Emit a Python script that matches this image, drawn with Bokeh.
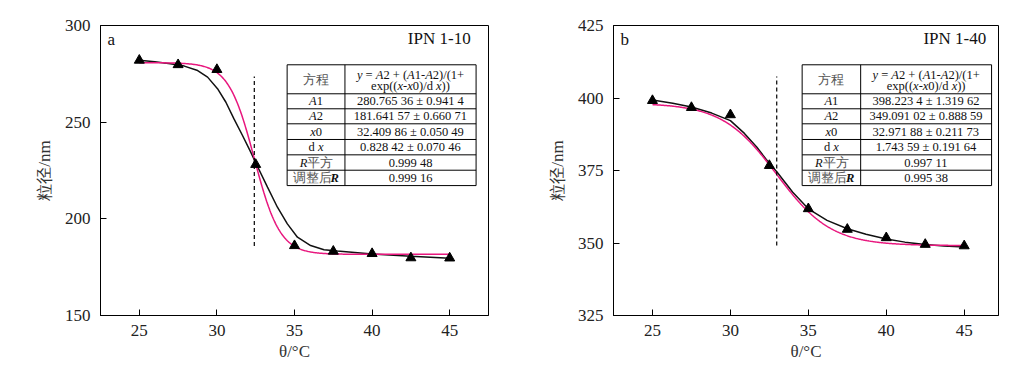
from bokeh.plotting import figure
from bokeh.layouts import row
from bokeh.models import Range1d, FixedTicker
from bokeh.core.properties import value
from bokeh.embed import file_html
from bokeh.resources import INLINE
import numpy as np

SERIF = "Liberation Serif"
MAGENTA = "#E8177E"

# ---------------- data ----------------
temps = [25, 27.5, 30, 32.5, 35, 37.5, 40, 42.5, 45]
size_a = [282.0, 279.7, 277.2, 228.1, 186.1, 183.2, 182.0, 179.8, 179.7]
size_b = [399.1, 396.7, 394.2, 376.7, 361.8, 354.7, 351.8, 349.5, 349.0]

# black smooth curves
black_a_x = [25, 26.0, 27.0, 27.9, 28.76, 29.4, 30.04, 30.58, 31.1, 31.65, 32.18, 32.5, 33.26,
             33.9, 34.54, 35.19, 36.04, 36.9, 37.76, 40, 42.5, 45]
black_a_y = [282.0, 281.3, 280.2, 279.0, 276.7, 273.3, 267.3, 260.3, 251.7, 243.1, 234.5, 229.0,
             216.4, 206.0, 197.4, 190.5, 186.2, 184.0, 183.3, 181.8, 180.6, 179.6]
black_b_x = [25, 26.3, 27.5, 28.8, 30, 30.9, 31.7, 32.3, 33.0, 34.0, 35, 36.2, 37.5, 38.7, 40,
             41.2, 42.5, 43.7, 45]
black_b_y = [399.3, 398.2, 396.9, 394.8, 392.2, 387.8, 383.0, 378.8, 374.4, 367.5, 361.8, 357.8,
             354.9, 353.0, 351.4, 350.3, 349.5, 349.0, 348.6]

# Boltzmann fit parameters (from the tables)
fit_a = dict(A1=280.76536, A2=181.64157, x0=32.40986, dx=0.82842)
fit_b = dict(A1=398.2234, A2=349.09102, x0=32.97188, dx=1.74359)

dash_a_y = [186.0, 273.6]
dash_b_y = [349.1, 407.4]

row_labels = ["A1", "A2", "x0", "dx", "R2", "adjR"]
table_a_vals = ["280.765 36 ± 0.941 4", "181.641 57 ± 0.660 71", "32.409 86 ± 0.050 49",
                "0.828 42 ± 0.070 46", "0.999 48", "0.999 16"]
table_b_vals = ["398.223 4 ± 1.319 62", "349.091 02 ± 0.888 59", "32.971 88 ± 0.211 73",
                "1.743 59 ± 0.191 64", "0.997 11", "0.995 38"]

xticks = [25, 30, 35, 40, 45]
yticks_a = [150, 200, 250, 300]
yticks_b = [325, 350, 375, 400, 425]

# ---------------- text layout helpers ----------------
W_R = {' ': .25, '(': .333, ')': .333, '+': .564, '-': .333, '/': .278, '=': .564, '.': .25,
       '±': .564, 'A': .722, 'R': .667, 'd': .5, 'e': .444, 'x': .5, 'p': .5, 'y': .5}
W_I = {'A': .611, 'y': .444, 'x': .444, 'R': .611, ' ': .25}
W_BI = {'R': .667}


def text_width(t, style):
    w = 0.0
    for c in t:
        if ord(c) > 0x2E80:
            w += 1.0
        elif c.isdigit():
            w += 0.5
        elif style == "bold italic" and c in W_BI:
            w += W_BI[c]
        elif style == "italic" and c in W_I:
            w += W_I[c]
        else:
            w += W_R.get(c, 0.5)
    return w


def draw_pieces(p, x, y, pieces, size, align="center"):
    total = sum(text_width(t, s) for t, s in pieces) * size
    off = {"center": -total / 2, "left": 0.0, "right": -total}[align]
    for t, s in pieces:
        lead = (len(t) - len(t.lstrip(' '))) * 0.25 * size
        body = t.strip(' ')
        cjk = any(ord(c) > 0x2E80 for c in body)
        if body:
            p.text(x=[x], y=[y], text=[body], x_offset=off + lead, text_align="left",
                   text_baseline="middle", text_font=value(SERIF), text_font_style=s,
                   text_font_size=value(f"{size}px"),
                   text_color="#555555" if cjk else "#111111")
        off += text_width(t, s) * size


LABEL_PIECES = {
    "A1": [("A", "italic"), ("1", "normal")],
    "A2": [("A", "italic"), ("2", "normal")],
    "x0": [("x", "italic"), ("0", "normal")],
    "dx": [("d ", "normal"), ("x", "italic")],
    "R2": [("R", "italic"), ("平方", "normal")],
    "adjR": [("调整后", "normal"), ("R", "bold italic")],
}
EQ1 = [("y", "italic"), (" = ", "normal"), ("A", "italic"), ("2 + (", "normal"), ("A", "italic"),
       ("1-", "normal"), ("A", "italic"), ("2)/(1+", "normal")]
EQ2 = [("exp((", "normal"), ("x", "italic"), ("-", "normal"), ("x", "italic"),
       ("0)/d ", "normal"), ("x", "italic"), ("))", "normal")]


def make_panel(xr, yr, yticks, ys, bx, by, fit, dash_y, vals, letter, title,
               bl, fw, br, tab_fx):
    p = figure(frame_width=fw, frame_height=290, x_range=Range1d(*xr), y_range=Range1d(*yr),
               output_backend="svg", toolbar_location=None, min_border_left=bl,
               min_border_right=br, min_border_top=25, min_border_bottom=48)
    p.background_fill_color = "white"
    p.border_fill_color = "white"
    p.outline_line_color = "black"
    p.outline_line_width = 1
    p.grid.visible = False
    for ax in (p.xaxis[0], p.yaxis[0]):
        ax.major_tick_in = 6
        ax.major_tick_out = 0
        ax.minor_tick_line_color = None
        ax.axis_line_color = "black"
        ax.major_tick_line_color = "black"
        ax.major_label_text_font = SERIF
        ax.major_label_text_font_size = "17px"
        ax.major_label_text_color = "#222222"
        ax.axis_label_text_font = SERIF
        ax.axis_label_text_font_size = "17px"
        ax.axis_label_text_font_style = "normal"
        ax.axis_label_text_color = "#333333"
    p.xaxis.ticker = FixedTicker(ticks=xticks)
    p.yaxis.ticker = FixedTicker(ticks=yticks)
    p.xaxis.major_label_standoff = 9
    p.yaxis.major_label_standoff = 10
    p.xaxis.axis_label = "θ/°C"
    p.xaxis.axis_label_standoff = 3
    p.yaxis.axis_label = "粒径/nm"
    p.yaxis.axis_label_standoff = 8

    # fit curve
    xf = np.linspace(25, 45, 400)
    yf = fit["A2"] + (fit["A1"] - fit["A2"]) / (1 + np.exp((xf - fit["x0"]) / fit["dx"]))
    p.line(bx, by, line_color="#111111", line_width=1.5)
    p.line(xf, yf, line_color=MAGENTA, line_width=1.5)
    p.line([fit["x0"], fit["x0"]], dash_y, line_color="black", line_width=1.2, line_dash="4 3")
    p.scatter(temps, ys, marker="triangle", size=10, color="black")

    def fx(f):
        return xr[0] + f * (xr[1] - xr[0])

    def fy(f):
        return yr[1] - f * (yr[1] - yr[0])

    # corner labels
    p.text(x=[fx(0.018)], y=[fy(0.048)], text=[letter], text_align="left", text_baseline="middle",
           text_font=value(SERIF), text_font_size=value("17px"), text_color="#111111")
    p.text(x=[fx(tab_fx[3])], y=[fy(0.046)], text=[title], text_align="right",
           text_baseline="middle", text_font=value(SERIF), text_font_size=value("17px"),
           text_color="#111111")

    # table
    tl, ts, tr = fx(tab_fx[0]), fx(tab_fx[1]), fx(tab_fx[2])
    rows = [0.1355, 0.2355, 0.2872, 0.339, 0.393, 0.446, 0.499, 0.552]
    p.quad(left=tl, right=tr, top=fy(rows[0]), bottom=fy(rows[-1]), fill_color="white",
           line_color="black", line_width=1)
    p.segment(x0=[tl] * 6, x1=[tr] * 6, y0=[fy(r) for r in rows[1:-1]],
              y1=[fy(r) for r in rows[1:-1]], line_color="black", line_width=1)
    p.segment(x0=[ts], x1=[ts], y0=[fy(rows[0])], y1=[fy(rows[-1])], line_color="black",
              line_width=1)
    cl = (tl + ts) / 2
    cr = (ts + tr) / 2
    fs = 12.5
    draw_pieces(p, cl, fy((rows[0] + rows[1]) / 2), [("方程", "normal")], 13)
    draw_pieces(p, cr, fy(0.170), EQ1, fs)
    draw_pieces(p, cr, fy(0.209), EQ2, fs)
    for i, (lab, v) in enumerate(zip(row_labels, vals)):
        yc = fy((rows[i + 1] + rows[i + 2]) / 2)
        draw_pieces(p, cl, yc, LABEL_PIECES[lab], fs)
        draw_pieces(p, cr, yc, [(v, "normal")], fs)
    return p


pa = make_panel((22.5, 47.5), (150, 300), yticks_a, size_a, black_a_x, black_a_y, fit_a,
                dash_a_y, table_a_vals, "a", "IPN 1-10", 100, 388, 32,
                (0.481, 0.630, 0.968, 0.954))
pb = make_panel((22.5, 47.2), (325, 425), yticks_b, size_b, black_b_x, black_b_y, fit_b,
                dash_b_y, table_b_vals, "b", "IPN 1-40", 93, 385, 21,
                (0.490, 0.642, 0.982, 0.968))

layout = row(pa, pb)
open("out.html", "w").write(file_html(layout, INLINE))
